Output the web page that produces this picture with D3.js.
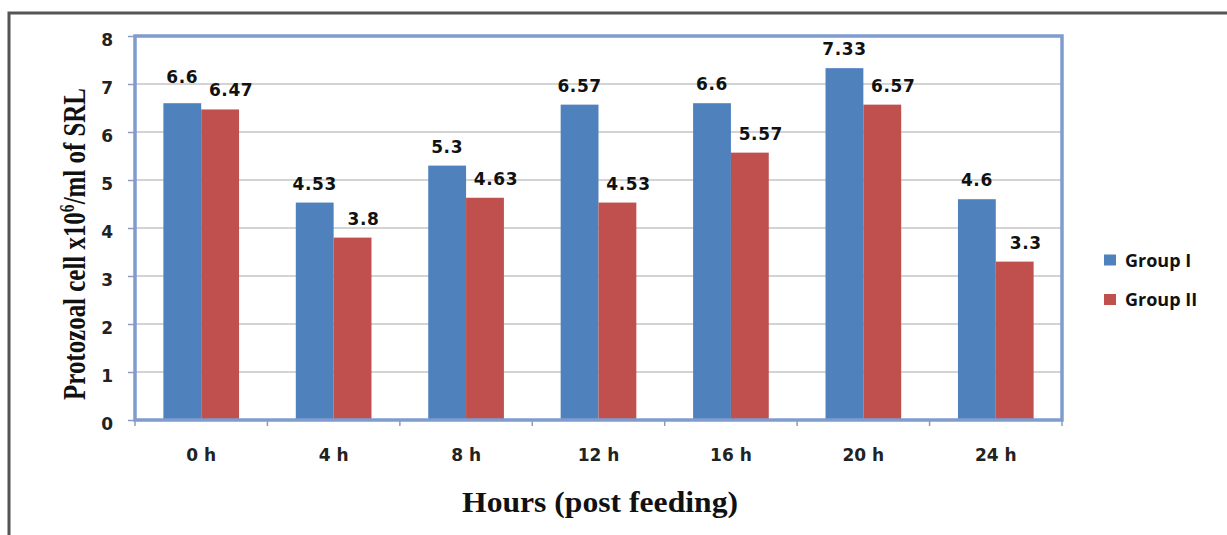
<!DOCTYPE html>
<html>
<head>
<meta charset="utf-8">
<script src="https://cdn.jsdelivr.net/npm/d3@7"></script>
<style>
  html, body { margin: 0; padding: 0; background: #fff; }
  svg { display: block; }
</style>
</head>
<body>
<svg id="chart" width="1227" height="535"></svg>
<script>
// Protozoal counts in strained rumen liquor by hour after feeding
const hours = ["0 h", "4 h", "8 h", "12 h", "16 h", "20 h", "24 h"];
const groupI = [6.6, 4.53, 5.3, 6.57, 6.6, 7.33, 4.6];
const groupII = [6.47, 3.8, 4.63, 4.53, 5.57, 6.57, 3.3];
const seriesNames = ["Group I", "Group II"];
const seriesColors = ["#4f81bd", "#c0504d"];
const yTicks = [0, 1, 2, 3, 4, 5, 6, 7, 8];

const svg = d3.select("#chart");
const plot = { left: 135, right: 1062, top: 36, bottom: 420 };
const labelFont = "DejaVu Sans, Verdana, sans-serif";

// outer frame (top and left edges visible)
svg.append("path")
  .attr("d", `M9,535 V13 H1227`)
  .attr("fill", "none")
  .attr("stroke", "#555")
  .attr("stroke-width", 3);

const x = d3.scaleBand().domain(hours).range([plot.left, plot.right]);
const y = d3.scaleLinear().domain([0, 8]).range([plot.bottom, plot.top]);

// horizontal gridlines
svg.append("g").selectAll("line").data(yTicks.filter(d => d > 0)).join("line")
  .attr("x1", plot.left).attr("x2", plot.right)
  .attr("y1", d => y(d)).attr("y2", d => y(d))
  .attr("stroke", "#c4c4c4").attr("stroke-width", 1.3);

// bars
const inner = d3.scaleBand().domain(seriesNames)
  .range([0, x.bandwidth()]).paddingOuter(0.75).paddingInner(0);
const rows = hours.map((h, i) => ({ h, vals: [groupI[i], groupII[i]] }));

const barG = svg.append("g");
rows.forEach(r => {
  r.vals.forEach((v, k) => {
    barG.append("rect")
      .attr("x", x(r.h) + inner(seriesNames[k]))
      .attr("y", y(v))
      .attr("width", inner.bandwidth())
      .attr("height", y(0) - y(v))
      .attr("fill", seriesColors[k]);
  });
});

// value labels: outside end; the taller label is lifted when the pair would collide
const labelG = svg.append("g")
  .attr("font-family", labelFont)
  .attr("font-weight", "bold").attr("font-size", 17)
  .attr("letter-spacing", 0.6).attr("fill", "#111");
const gap = 13, lineH = 13, seriesDx = [0, 11];
rows.forEach(r => {
  const base = r.vals.map(v => y(v) - gap);
  if (Math.abs(base[0] - base[1]) < lineH) {
    if (base[0] < base[1]) base[0] = base[1] - lineH; else base[1] = base[0] - lineH;
  }
  r.vals.forEach((v, k) => {
    labelG.append("text")
      .attr("x", x(r.h) + inner(seriesNames[k]) + inner.bandwidth() / 2 + seriesDx[k])
      .attr("y", base[k])
      .attr("text-anchor", "middle")
      .text(v);
  });
});

// plot border
svg.append("rect")
  .attr("x", plot.left).attr("y", plot.top)
  .attr("width", plot.right - plot.left).attr("height", plot.bottom - plot.top)
  .attr("fill", "none").attr("stroke", "#7f9ccf").attr("stroke-width", 3.5);

// y axis
const yAxis = d3.axisLeft(y).tickValues(yTicks).tickSize(7).tickPadding(15);
const yg = svg.append("g").attr("transform", `translate(${plot.left},0)`).call(yAxis);
yg.select(".domain").remove();
yg.selectAll(".tick line").attr("stroke", "#8a9bc0").attr("stroke-width", 1.5);
yg.selectAll(".tick text")
  .attr("dy", "0.55em")
  .attr("font-family", labelFont)
  .attr("font-weight", "bold").attr("font-size", 17).attr("fill", "#222");

// x axis
const xAxis = d3.axisBottom(x).tickSize(0).tickPadding(29);
const xg = svg.append("g").attr("transform", `translate(0,${plot.bottom})`).call(xAxis);
xg.select(".domain").remove();
xg.selectAll(".tick text")
  .attr("font-family", labelFont)
  .attr("font-weight", "bold").attr("font-size", 17).attr("fill", "#222");
// category boundary ticks
svg.append("g").selectAll("line").data(d3.range(hours.length + 1)).join("line")
  .attr("x1", i => plot.left + i * x.step())
  .attr("x2", i => plot.left + i * x.step())
  .attr("y1", plot.bottom).attr("y2", plot.bottom + 6)
  .attr("stroke", "#8a9bc0").attr("stroke-width", 1.5);

// squeeze a text element along its run to a given length
function fitLength(sel, len) {
  const natural = sel.node().getComputedTextLength();
  return len / natural;
}

// y axis title (tall, condensed bold serif)
const yTitleG = svg.append("g");
const yTitle = yTitleG.append("text")
  .attr("text-anchor", "middle")
  .attr("font-family", "Liberation Serif, Times New Roman, serif")
  .attr("font-weight", "bold").attr("font-size", 32).attr("fill", "#111");
yTitle.append("tspan").text("Protozoal cell x10");
yTitle.append("tspan").attr("dy", -11).attr("font-size", 20).text("6");
yTitle.append("tspan").attr("dy", 11).text("/ml of SRL");
const ySx = fitLength(yTitle, 312);
yTitleG.attr("transform", `translate(85,244) rotate(-90) scale(${ySx},1)`);

// x axis title
const xTitleG = svg.append("g");
const xTitle = xTitleG.append("text")
  .attr("text-anchor", "middle")
  .attr("font-family", "Liberation Serif, Times New Roman, serif")
  .attr("font-weight", "bold").attr("font-size", 30).attr("fill", "#111")
  .text("Hours (post feeding)");
const xSx = fitLength(xTitle, 276);
xTitleG.attr("transform", `translate(600,512) scale(${xSx},1)`);

// legend
const legend = svg.append("g").attr("transform", "translate(1104,0)");
seriesNames.forEach((name, i) => {
  const cy = 260 + i * 39.5;
  legend.append("rect")
    .attr("x", 0).attr("y", cy - 5.5).attr("width", 12).attr("height", 11)
    .attr("fill", seriesColors[i]);
  legend.append("text")
    .attr("x", 21).attr("y", cy + 6.5)
    .attr("font-family", "Open Sans, Lato, sans-serif")
    .attr("font-weight", "bold").attr("font-size", 18).attr("fill", "#111")
    .text(name);
});
</script>
</body>
</html>
